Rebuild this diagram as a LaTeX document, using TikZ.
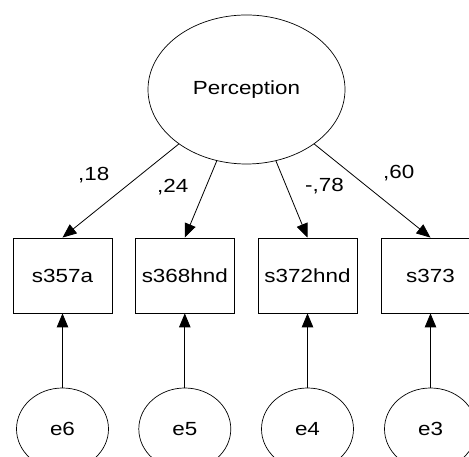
\documentclass[tikz,border=0pt]{standalone}
\usepackage{fontspec}
\setmainfont{Liberation Sans}[FakeStretch=1.18]
\usetikzlibrary{shapes.geometric,arrows.meta}
\begin{document}
\begin{tikzpicture}[x=1pt,y=1pt,
  every node/.style={font=\fontsize{19}{22}\selectfont},
  latent/.style={draw,ellipse,line width=0.7pt,inner sep=0pt,minimum width=197pt,minimum height=149pt},
  errvar/.style={draw,ellipse,line width=0.7pt,inner sep=0pt,minimum width=92pt,minimum height=82pt},
  obsbox/.style={draw,rectangle,line width=0.8pt,inner sep=0pt,minimum width=99pt,minimum height=75pt},
  path/.style={line width=0.8pt,-{Triangle[length=14pt,width=11.5pt]}},
  coef/.style={anchor=base west,inner sep=0pt}]
\useasboundingbox (0,0) rectangle (469,457);
\clip (0,0) rectangle (469,457);

% latent factor
\node[latent] (P) at (246.5,367.5) {Perception};

% observed indicators
\node[obsbox] (b1) at (62.5,181.5) {s357a};
\node[obsbox] (b2) at (184.8,181.5) {s368hnd};
\node[obsbox] (b3) at (307.5,181.5) {s372hnd};
\node[obsbox] (b4) at (430.5,181.5) {s373};

% error terms
\node[errvar] (e6) at (62.5,28) {e6};
\node[errvar] (e5) at (184.8,28) {e5};
\node[errvar] (e4) at (307.5,28) {e4};
\node[errvar] (e3) at (430.5,28) {e3};

% loadings
\draw[path] (P) -- (b1.north);
\draw[path] (P) -- (b2.north);
\draw[path] (P) -- (b3.north);
\draw[path] (P) -- (b4.north);

% error paths
\draw[path] (e6) -- (b1);
\draw[path] (e5) -- (b2);
\draw[path] (e4) -- (b3);
\draw[path] (e3) -- (b4);

% loading estimates
\node[coef] (c1) at (78,276) {,18};
\node[coef] (c2) at (157,264) {,24};
\node[coef] (c3) at (305,265) {-,78};
\node[coef] (c4) at (383,278) {,60};
\end{tikzpicture}
\end{document}
